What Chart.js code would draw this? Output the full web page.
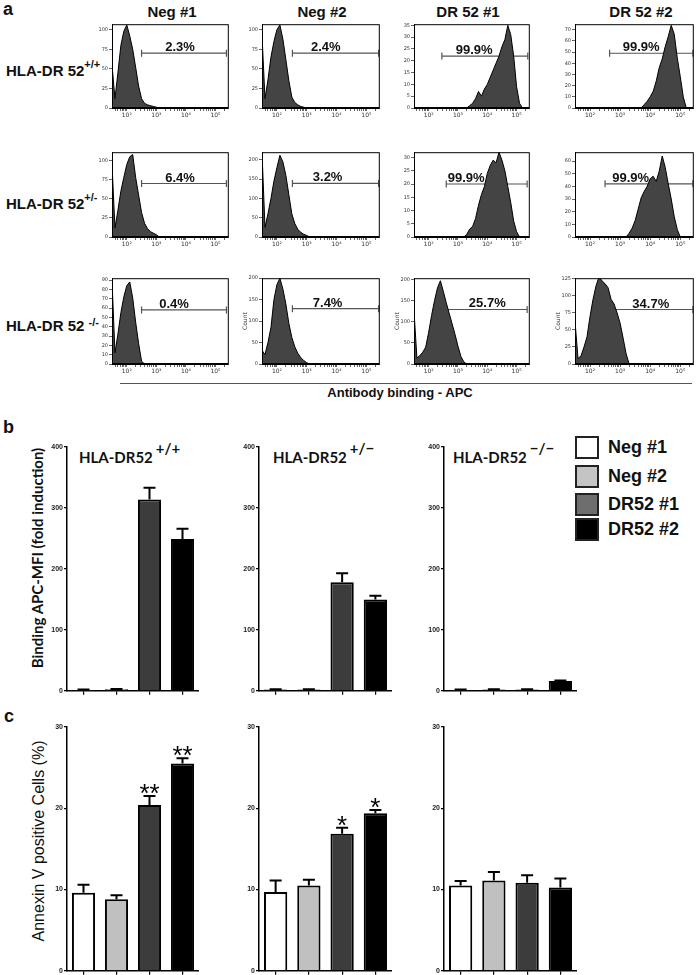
<!DOCTYPE html>
<html>
<head>
<meta charset="utf-8">
<script src="https://cdn.jsdelivr.net/npm/chart.js@4.4.1/dist/chart.umd.min.js"></script>
<style>
body { margin: 0; }
#page { position: relative; width: 699px; height: 975px; overflow: hidden; background: #fff; font-family: "Liberation Sans", Arial, sans-serif; color: #111; }
#page canvas { position: absolute; }
.lbl { position: absolute; white-space: nowrap; font-weight: bold; line-height: 1; }
.sup { position: relative; font-size: 11px; }
.rot { position: absolute; white-space: nowrap; transform: translate(-50%, -50%) rotate(-90deg); line-height: 1; }
.ttl { position: absolute; white-space: nowrap; font-family: Lato, "Open Sans", sans-serif; font-weight: bold; font-size: 15px; line-height: 1; }
.sw { position: absolute; box-sizing: border-box; width: 24px; height: 23px; border: 2px solid #222; }
.key { position: absolute; left: 608px; font-weight: bold; font-size: 18px; line-height: 23px; }
</style>
</head>
<body>
<div id="page">
  <div class="lbl" style="left:3px; top:0px; font-size:18px">a</div>
  <div class="lbl" style="left:3px; top:418px; font-size:18px">b</div>
  <div class="lbl" style="left:4px; top:707px; font-size:18px">c</div>

  <div class="lbl" id="colTitles"></div>

  <div class="lbl" style="left:6px; top:63px; font-size:15px">HLA-DR 52<span class="sup" style="top:-8px">+/+</span></div>
  <div class="lbl" style="left:6px; top:196px; font-size:15px">HLA-DR 52<span class="sup" style="top:-8px">+/-</span></div>
  <div class="lbl" style="left:6px; top:318px; font-size:15px">HLA-DR 52 <span class="sup" style="top:-5px">-/-</span></div>

  <div style="position:absolute; left:120px; top:383px; width:572px; height:1px; background:#555"></div>
  <div class="lbl" style="left:400px; top:386px; font-size:13px; transform:translateX(-50%)">Antibody binding - APC</div>

  <div class="ttl" style="left:79px; top:450px">HLA-DR52<span class="sup" style="top:-9px; font-size:15px; margin-left:3px">+/+</span></div>
  <div class="ttl" style="left:273px; top:450px">HLA-DR52<span class="sup" style="top:-9px; font-size:15px; margin-left:3px">+/−</span></div>
  <div class="ttl" style="left:453px; top:450px">HLA-DR52<span class="sup" style="top:-9px; font-size:15px; margin-left:3px">−/−</span></div>

  <div class="rot" style="left:37px; top:558px; font-family:Lato, sans-serif; font-weight:bold; font-size:15px">Binding APC-MFI (fold induction)</div>
  <div class="rot" style="left:39px; top:841px; font-size:16px">Annexin V positive Cells (%)</div>

  <div id="legend"></div>
</div>
<script>
// Flow histograms: x is log10(APC), one value per bin
var logBins = [1.5, 1.6, 1.7, 1.8, 1.9, 2.0, 2.1, 2.2, 2.3, 2.4, 2.5, 2.6, 2.7, 2.8, 2.9, 3.0, 3.1, 3.2, 3.3, 3.4,
               3.5, 3.6, 3.7, 3.8, 3.9, 4.0, 4.1, 4.2, 4.3, 4.4, 4.5, 4.6, 4.7, 4.8, 4.9, 5.0, 5.1, 5.2, 5.3, 5.4];

var histCols = ['Neg #1', 'Neg #2', 'DR 52 #1', 'DR 52 #2'];

var pp_neg1 = [55, 12, 45, 80, 98, 106, 92, 75, 52, 28, 12, 6, 4, 3, 2, 1, 0];
var pp_neg2 = [93, 12, 36, 65, 85, 100, 106, 88, 62, 35, 14, 7, 4, 2, 1, 0];
var pp_dr1 = [0, 0, 0, 0, 0, 0, 0, 0, 0, 0, 0, 0, 0, 0, 0, 0, 0, 0, 0, 1,
              2, 4, 7, 5, 8, 10, 13, 16, 19, 22, 26, 29, 35, 31, 22, 9, 2, 0];
var pp_dr2 = [0, 0, 0, 0, 0, 0, 0, 0, 0, 0, 0, 0, 0, 0, 0, 0, 0, 0, 0, 0,
              0, 0, 0, 3, 6, 10, 15, 24, 36, 44, 55, 64, 74, 66, 45, 28, 10, 0];

var pm_neg1 = [95, 12, 35, 60, 78, 95, 105, 108, 78, 55, 32, 18, 11, 7, 5, 3, 0];
var pm_neg2 = [220, 25, 60, 100, 145, 180, 212, 195, 160, 110, 60, 35, 20, 12, 7, 4, 0];
var pm_dr1 = [0, 0, 0, 0, 0, 0, 0, 0, 0, 0, 0, 0, 0, 0, 0, 0, 0, 0, 1, 3,
              4, 7, 12, 16, 19, 24, 27, 29, 28, 32, 29, 25, 19, 13, 6, 2, 0];
var pm_dr2 = [0, 0, 0, 0, 0, 0, 0, 0, 0, 0, 0, 0, 0, 0, 0, 0, 0, 0, 3, 7,
              13, 22, 31, 36, 40, 46, 48, 44, 52, 64, 55, 42, 30, 16, 6, 0];

var mm_neg1 = [90, 12, 32, 55, 72, 84, 88, 71, 45, 22, 3, 0];
var mm_neg2 = [32, 22, 50, 85, 150, 185, 200, 175, 140, 95, 62, 40, 25, 15, 8, 3, 0];
var mm_dr1 = [125, 14, 20, 28, 40, 75, 115, 150, 180, 197, 172, 145, 120, 95, 70, 42, 18, 5, 0];
var mm_dr2 = [63, 8, 12, 25, 40, 70, 95, 115, 128, 122, 118, 112, 95, 88, 75, 60, 38, 15, 0];

// gates, row by row
var gatePct = ['2.3%', '2.4%', '99.9%', '99.9%', '6.4%', '3.2%', '99.9%', '99.9%', '0.4%', '7.4%', '25.7%', '34.7%'];
var gateFrom = [2.5, 2.52, 2.45, 2.65, 2.5, 2.52, 2.6, 2.5, 2.5, 2.52, 2.55, 2.55];
var gateTo = [5.37, 5.41, 5.38, 5.42, 5.37, 5.41, 5.36, 5.42, 5.37, 5.41, 5.36, 5.42];
var gateLevel = [70, 70, 22, 49, 70, 139, 20, 42, 58, 129, 129, 80];
var pctAt = [3.8, 3.64, 3.55, 3.7, 3.8, 3.7, 3.28, 3.35, 3.6, 3.7, 4.0, 4.02];
var histMax = [107, 107, 35.5, 75, 111, 220, 32, 67, 92, 200, 203, 126];
var histStep = [25, 25, 5, 10, 25, 50, 5, 10, 10, 50, 50, 25];

// Bar panels
var barLabels = ['Neg #1', 'Neg #2', 'DR52 #1', 'DR52 #2'];
var barColours = ['#ffffff', '#c0c0c0', '#3c3c3c', '#000000'];
var keyColours = ['#ffffff', '#c4c4c4', '#6e6e6e', '#000000'];

var mfiPP = [1.5, 2.5, 314, 249];
var mfiPPerr = [0.5, 0.5, 19, 17];
var mfiPM = [2, 2, 178, 150];
var mfiPMerr = [0.5, 0.5, 15, 6];
var mfiMM = [1.5, 2, 2, 16];
var mfiMMerr = [0.5, 0.5, 0.5, 1];

var annexPP = [9.6, 8.8, 20.4, 25.5];
var annexPPerr = [1.0, 0.5, 1.1, 0.65];
var annexPM = [9.7, 10.5, 16.85, 19.4];
var annexPMerr = [1.4, 0.7, 0.75, 0.4];
var annexMM = [10.5, 11.1, 10.85, 10.25];
var annexMMerr = [0.55, 1.05, 0.9, 1.1];
var starsPP = ['', '', '**', '**'];
var starsPM = ['', '', '*', '*'];

var supDigit = { 2: '\u00b2', 3: '\u00b3', 4: '\u2074', 5: '\u2075' };

var frame = {
    id: 'frame',
    afterDraw: function(chart) {
        var a = chart.chartArea, ctx = chart.ctx;
        ctx.save();
        ctx.strokeStyle = '#000';
        ctx.lineWidth = 1;
        ctx.strokeRect(a.left + 0.5, a.top + 0.5, a.right - a.left - 1, a.bottom - a.top - 1);
        ctx.restore();
    }
};

function gateLabel(text, at, level) {
    return {
        id: 'gateLabel',
        afterDatasetsDraw: function(chart) {
            var ctx = chart.ctx;
            ctx.save();
            ctx.font = 'bold 13px "Liberation Sans", Arial, sans-serif';
            ctx.fillStyle = '#111';
            ctx.textAlign = 'center';
            ctx.textBaseline = 'alphabetic';
            ctx.fillText(text, chart.scales.x.getPixelForValue(at), chart.scales.y.getPixelForValue(level) - 2);
            ctx.restore();
        }
    };
}

function errorBars(errs, stars) {
    return {
        id: 'errorBars',
        afterDatasetsDraw: function(chart) {
            var ctx = chart.ctx, y = chart.scales.y;
            var vals = chart.data.datasets[0].data;
            ctx.save();
            ctx.strokeStyle = '#000';
            ctx.fillStyle = '#000';
            ctx.lineWidth = 2;
            chart.getDatasetMeta(0).data.forEach(function(bar, i) {
                var top = y.getPixelForValue(vals[i] + errs[i]);
                ctx.beginPath();
                ctx.moveTo(bar.x, bar.y);
                ctx.lineTo(bar.x, top);
                ctx.moveTo(bar.x - 6, top);
                ctx.lineTo(bar.x + 6, top);
                ctx.stroke();
                if (stars && stars[i]) {
                    ctx.font = '26px "Liberation Sans", Arial, sans-serif';
                    ctx.textAlign = 'center';
                    ctx.textBaseline = 'alphabetic';
                    ctx.fillText(stars[i], bar.x, top + 6);
                }
            });
            ctx.restore();
        }
    };
}

function decadeTicks(scale) {
    var t = [];
    for (var d = 1; d <= 5; d++) {
        for (var m = 1; m <= 9; m++) {
            var v = d + Math.log10(m);
            if (v >= scale.min && v <= scale.max) t.push({ value: v });
        }
    }
    scale.ticks = t;
}

function decadeLabel(value) {
    var r = Math.round(value);
    return Math.abs(value - r) < 1e-6 ? '10' + supDigit[r] : '';
}

function addCanvas(left, top, w, h) {
    var cv = document.createElement('canvas');
    cv.width = w;
    cv.height = h;
    cv.style.left = left + 'px';
    cv.style.top = top + 'px';
    document.getElementById('page').appendChild(cv);
    return cv;
}

var hists = [pp_neg1, pp_neg2, pp_dr1, pp_dr2, pm_neg1, pm_neg2, pm_dr1, pm_dr2, mm_neg1, mm_neg2, mm_dr1, mm_dr2];
var histLeft = [112, 262, 414, 575], histRight = [232, 383, 533, 697];
var histTop = [22, 150, 276], histBottom = [108, 237, 364];

function drawHist(i) {
    var r = Math.floor(i / 4), c = i % 4;
    var cv = addCanvas(histLeft[c] - 20, histTop[r] - 3,
        histRight[c] - histLeft[c] + 22, histBottom[r] - histTop[r] + 17);
    var pts = hists[i].map(function(v, k) { return { x: logBins[k], y: v }; });
    var tickGrid = { drawOnChartArea: false, tickLength: 3, color: '#222', lineWidth: 0.7 };

    new Chart(cv, {
        type: 'line',
        data: {
            datasets: [{
                data: pts,
                fill: 'origin',
                backgroundColor: '#444444',
                borderColor: '#000',
                borderWidth: 1,
                pointRadius: 0,
                tension: 0
            }, {
                data: [{ x: gateFrom[i], y: gateLevel[i] }, { x: gateTo[i], y: gateLevel[i] }],
                fill: false,
                borderColor: '#555',
                borderWidth: 1.2,
                pointStyle: 'line',
                rotation: 90,
                pointRadius: 3.5,
                pointBorderColor: '#555',
                pointBorderWidth: 1.2
            }]
        },
        options: {
            responsive: false,
            animation: false,
            events: [],
            layout: { padding: { top: 3, right: 2, left: 0, bottom: 0 } },
            plugins: { legend: { display: false }, tooltip: { enabled: false } },
            scales: {
                x: {
                    type: 'linear', min: 1.5, max: 5.45,
                    afterBuildTicks: decadeTicks,
                    afterFit: function(s) { s.height = 14; },
                    ticks: { autoSkip: false, maxRotation: 0, padding: 1, color: '#333',
                             font: { size: 6, family: 'DejaVu Sans' }, callback: decadeLabel },
                    grid: tickGrid,
                    border: { color: '#000', width: 1 }
                },
                y: {
                    min: 0, max: histMax[i],
                    afterFit: function(s) { s.width = 20; },
                    ticks: { stepSize: histStep[i], includeBounds: false, padding: 1, color: '#333',
                             font: { size: 5, family: 'DejaVu Sans' } },
                    grid: tickGrid,
                    border: { color: '#000', width: 1 },
                    title: { display: r === 2 && c > 0, text: 'Count', padding: 0,
                             color: '#333', font: { size: 6, family: 'DejaVu Sans' } }
                }
            }
        },
        plugins: [frame, gateLabel(gatePct[i], pctAt[i], gateLevel[i])]
    });
}

for (var i = 0; i < hists.length; i++) drawHist(i);

var titles = '';
var colCentre = [172, 322, 468, 641];
histCols.forEach(function(t, c) {
    titles += '<div class="lbl" style="left:' + colCentre[c] + 'px; top:4px; font-size:15px; transform:translateX(-50%)">' + t + '</div>';
});
document.getElementById('colTitles').outerHTML = titles;

// bar panels
var barAxisX = [67, 259, 444], barRight = [199, 392, 577];

function drawBars(col, top0, bottom0, values, errs, stars, max, step) {
    var left = barAxisX[col] - 22;
    var cv = addCanvas(left, top0 - 8, barRight[col] - left, bottom0 + 5 - (top0 - 8));
    var tickGrid = { drawOnChartArea: false, color: '#000', lineWidth: 1.2 };

    new Chart(cv, {
        type: 'bar',
        data: {
            labels: barLabels,
            datasets: [{
                data: values,
                backgroundColor: barColours,
                borderColor: '#000',
                borderWidth: 2,
                barPercentage: 0.7,
                categoryPercentage: 1
            }]
        },
        options: {
            responsive: false,
            animation: false,
            events: [],
            layout: { padding: { top: 8, right: 0, left: 0, bottom: 0 } },
            plugins: { legend: { display: false }, tooltip: { enabled: false } },
            scales: {
                x: {
                    afterFit: function(s) { s.height = 5; },
                    ticks: { display: false },
                    grid: Object.assign({ offset: false, tickLength: 4 }, tickGrid),
                    border: { color: '#000', width: 1.5 }
                },
                y: {
                    min: 0, max: max,
                    afterFit: function(s) { s.width = 22; },
                    ticks: { stepSize: step, padding: 1, color: '#222',
                             font: { size: 7, weight: 'bold', family: 'Liberation Sans' } },
                    grid: Object.assign({ tickLength: 3 }, tickGrid),
                    border: { color: '#000', width: 1.5 }
                }
            }
        },
        plugins: [errorBars(errs, stars)]
    });
}

drawBars(0, 447, 691, mfiPP, mfiPPerr, null, 400, 100);
drawBars(1, 447, 691, mfiPM, mfiPMerr, null, 400, 100);
drawBars(2, 447, 691, mfiMM, mfiMMerr, null, 400, 100);
drawBars(0, 727, 971, annexPP, annexPPerr, starsPP, 30, 10);
drawBars(1, 727, 971, annexPM, annexPMerr, starsPM, 30, 10);
drawBars(2, 727, 971, annexMM, annexMMerr, null, 30, 10);

// legend
var keyTop = [436, 465, 493, 518];
var keyHtml = '';
barLabels.forEach(function(l, k) {
    keyHtml += '<div class="sw" style="left:575px; top:' + keyTop[k] + 'px; background:' + keyColours[k] + '"></div>';
    keyHtml += '<div class="key" style="top:' + keyTop[k] + 'px">' + l + '</div>';
});
document.getElementById('legend').outerHTML = keyHtml;
</script>
</body>
</html>
